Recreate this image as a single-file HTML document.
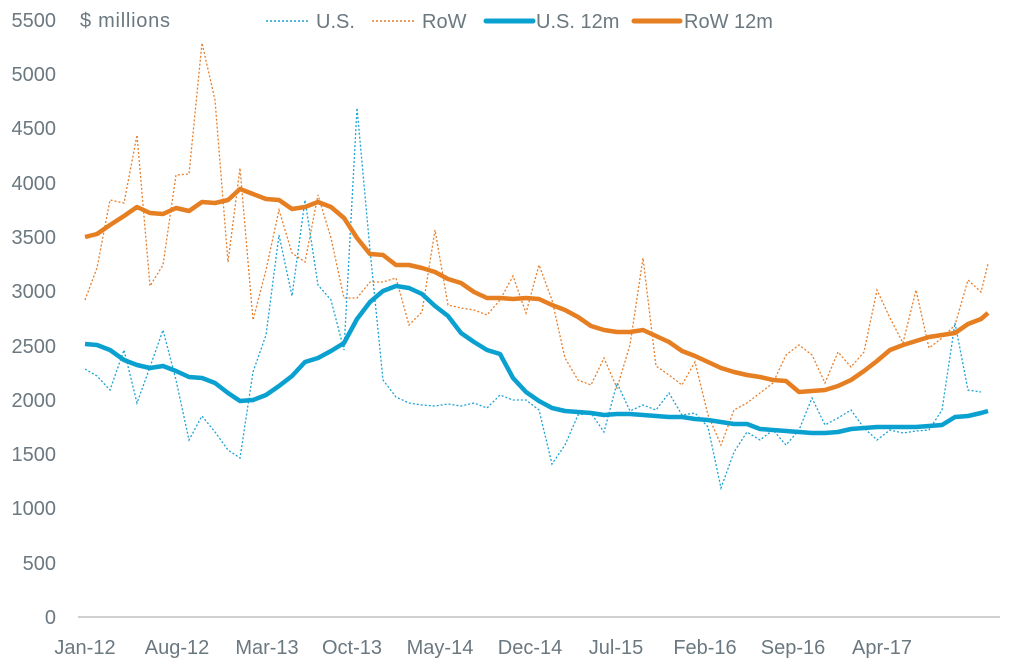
<!DOCTYPE html>
<html><head><meta charset="utf-8"><style>
html,body{margin:0;padding:0;background:#fff}
svg text{font-family:"Liberation Sans",sans-serif;fill:#6b7880;font-size:20px}
</style></head><body>
<svg width="1009" height="664" viewBox="0 0 1009 664" xmlns="http://www.w3.org/2000/svg">
<line x1="78" y1="617" x2="1000" y2="617" stroke="#d0d0d0" stroke-width="2"/>
<g text-anchor="end">
<text x="56" y="624">0</text><text x="56" y="570">500</text><text x="56" y="515">1000</text>
<text x="56" y="461">1500</text><text x="56" y="407">2000</text><text x="56" y="353">2500</text>
<text x="56" y="298">3000</text><text x="56" y="244">3500</text><text x="56" y="190">4000</text>
<text x="56" y="135">4500</text><text x="56" y="81">5000</text><text x="56" y="27">5500</text>
</g>
<g text-anchor="middle">
<text x="85" y="654">Jan-12</text><text x="177" y="654">Aug-12</text><text x="267" y="654">Mar-13</text>
<text x="352" y="654">Oct-13</text><text x="440" y="654">May-14</text><text x="530" y="654">Dec-14</text>
<text x="616" y="654">Jul-15</text><text x="705" y="654">Feb-16</text><text x="793" y="654">Sep-16</text>
<text x="882" y="654">Apr-17</text>
</g>
<text x="80" y="27" textLength="90">$ millions</text>
<line x1="266" y1="21" x2="310" y2="21" stroke="#1aa3d4" stroke-width="1.5" stroke-dasharray="2,2"/>
<text x="316" y="28">U.S.</text>
<line x1="372" y1="21" x2="415" y2="21" stroke="#e87e2a" stroke-width="1.5" stroke-dasharray="2,2"/>
<text x="422" y="28">RoW</text>
<line x1="486" y1="21" x2="533" y2="21" stroke="#0aa0d0" stroke-width="5" stroke-linecap="round"/>
<text x="536" y="28">U.S. 12m</text>
<line x1="634" y1="21" x2="680" y2="21" stroke="#e67e22" stroke-width="5" stroke-linecap="round"/>
<text x="684" y="28">RoW 12m</text>
<polyline fill="none" stroke="#e87e2a" stroke-width="1.3" stroke-dasharray="2,2" points="85,300 97,268 110,200 124,203 137,135 150,286 163,265 176,175 189,174 202,43 215,100 228,262 240,168 253,320 266,270 279,210 292,253 305,262 318,195 331,238 344,298 357,298 370,282 383,282 396,278 409,325 422,312 435,230 448,305 461,308 474,310 487,315 500,300 513,276 526,313 539,265 552,300 565,358 578,380 591,385 604,358 617,388 630,345 643,258 656,366 669,375 682,385 695,362 708,415 721,445 734,410 747,403 760,393 773,383 786,355 799,345 812,355 825,383 838,352 851,367 864,352 877,290 890,318 903,343 916,290 929,348 942,338 955,325 968,280 981,292 988,264"/>
<polyline fill="none" stroke="#1aa3d4" stroke-width="1.3" stroke-dasharray="2,2" points="85,369 97,376 110,390 124,350 137,403 150,367 163,330 176,380 189,440 202,416 215,432 228,450 240,458 253,372 266,335 279,235 292,296 305,200 318,285 331,300 344,350 357,108 370,250 383,380 396,397 409,403 422,405 435,406 448,404 461,406 474,403 487,408 500,395 513,400 526,400 539,410 552,464 565,445 578,415 591,413 604,432 617,383 630,411 643,405 656,410 669,393 682,415 695,413 708,427 721,488 734,452 747,432 760,440 773,430 786,445 799,430 812,398 825,425 838,418 851,410 864,428 877,440 890,430 903,433 916,431 929,430 942,410 955,323 968,390 981,392"/>
<polyline fill="none" stroke="#0aa0d0" stroke-width="4.5" stroke-linejoin="round" points="85,344 97,345 110,350 124,360 137,365 150,368 163,366 176,371 189,377 202,378 215,383 228,393 240,401 253,400 266,395 279,386 292,376 305,362 318,358 331,351 344,343 357,319 370,302 383,291 396,286 409,288 422,294 435,306 448,316 461,333 474,342 487,350 500,354 513,378 526,392 539,401 552,408 565,411 578,412 591,413 604,415 617,414 630,414 643,415 656,416 669,417 682,417 695,419 708,420 721,422 734,424 747,424 760,429 773,430 786,431 799,432 812,433 825,433 838,432 851,429 864,428 877,427 890,427 903,427 916,427 929,426 942,425 955,417 968,416 981,413 988,411"/>
<polyline fill="none" stroke="#e67e22" stroke-width="4.5" stroke-linejoin="round" points="85,237 97,234 110,225 124,216 137,207 150,213 163,214 176,208 189,211 202,202 215,203 228,200 240,189 253,194 266,199 279,200 292,209 305,207 318,202 331,207 344,218 357,238 370,254 383,255 396,265 409,265 422,268 435,272 448,279 461,283 474,292 487,298 500,298 513,299 526,298 539,299 552,305 565,310 578,317 591,326 604,330 617,332 630,332 643,330 656,336 669,342 682,351 695,356 708,362 721,368 734,372 747,375 760,377 773,380 786,381 799,392 812,391 825,390 838,386 851,380 864,371 877,361 890,350 903,345 916,341 929,337 942,335 955,333 968,324 981,319 988,313"/>
</svg>
</body></html>
